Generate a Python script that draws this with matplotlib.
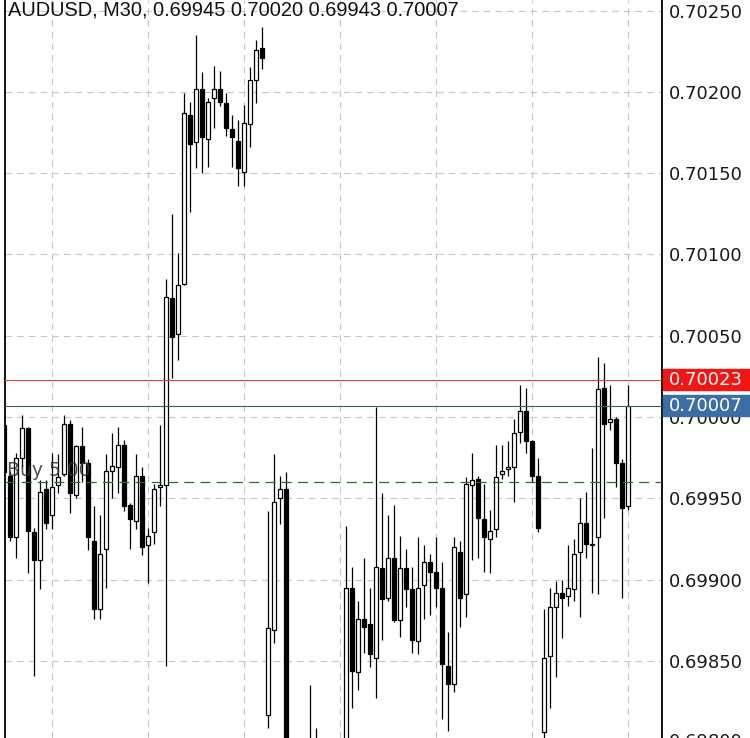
import numpy as np
import matplotlib.pyplot as plt
from matplotlib.patches import Rectangle
from matplotlib.ticker import FormatStrFormatter
from matplotlib.transforms import blended_transform_factory

# ---- data ----
title = "AUDUSD, M30, 0.69945 0.70020 0.69943 0.70007"

# OHLC in points (1 point = 0.00001)
opens = [69995, 69964, 69926, 69975, 69993, 69929, 69912, 69956, 69940, 69958,
         69965, 69996, 69952, 69982, 69972, 69924, 69882, 69919, 69967, 69969,
         69983, 69946, 69936, 69964, 69921, 69929, 69957, 69958, 70073, 70051,
         70082, 70186, 70169, 70202, 70171, 70196, 70202, 70193, 70177, 70170,
         70151, 70180, 70207, 70227, 69817, 69869, 69950, 69956, 69765, 69780,
         69772, 69790, 69785, 69778, 69770, 69785, 69776, 69782, 69895, 69843,
         69876, 69873, 69852, 69907, 69889, 69913, 69875, 69907, 69894, 69862,
         69897, 69911, 69905, 69895, 69847, 69836, 69917, 69891, 69958, 69962,
         69937, 69925, 69931, 69965, 69968, 69969, 69991, 70004, 69985, 69964,
         69806, 69853, 69883, 69892, 69890, 69894, 69917, 69935, 69921, 69926,
         70018, 69997, 69999, 69972, 69945]
highs = [69996, 69967, 69978, 70001, 69994, 69932, 69961, 69961, 69978, 69977,
         70001, 69998, 69983, 69994, 69974, 69945, 69940, 69977, 69990, 69994,
         69986, 69947, 69977, 69969, 69932, 69959, 69995, 70085, 70125, 70101,
         70199, 70194, 70235, 70212, 70196, 70216, 70213, 70199, 70186, 70183,
         70192, 70215, 70232, 70240, 69942, 69977, 69964, 69966, 69790, 69795,
         69798, 69835, 69809, 69795, 69792, 69798, 69796, 69933, 69908, 69887,
         69913, 69895, 70006, 69953, 69940, 69946, 69927, 69919, 69908, 69926,
         69921, 69916, 69926, 69911, 69868, 69926, 69924, 69963, 69978, 69964,
         69959, 69943, 69983, 69983, 69985, 69999, 70020, 70018, 69986, 69975,
         69882, 69895, 69899, 69900, 69921, 69925, 69950, 69954, 69981, 70037,
         70033, 70020, 70000, 69974, 70020]
lows = [69961, 69924, 69913, 69969, 69904, 69841, 69894, 69931, 69931, 69953,
        69964, 69941, 69950, 69960, 69918, 69876, 69876, 69895, 69950, 69953,
        69942, 69919, 69931, 69915, 69898, 69922, 69945, 69847, 70024, 70035,
        70081, 70126, 70153, 70150, 70154, 70178, 70191, 70173, 70154, 70142,
        70142, 70166, 70193, 70214, 69809, 69861, 69934, 69755, 69750, 69760,
        69768, 69775, 69760, 69755, 69762, 69766, 69768, 69775, 69821, 69832,
        69855, 69846, 69827, 69863, 69887, 69874, 69865, 69883, 69855, 69854,
        69876, 69878, 69883, 69814, 69807, 69831, 69871, 69877, 69912, 69913,
        69905, 69904, 69926, 69962, 69964, 69948, 69984, 69978, 69960, 69929,
        69798, 69821, 69840, 69864, 69884, 69887, 69877, 69913, 69892, 69891,
        69938, 69992, 69957, 69889, 69943]
closes = [69966, 69926, 69975, 69993, 69930, 69912, 69954, 69935, 69957, 69963,
          69996, 69953, 69982, 69972, 69926, 69882, 69916, 69967, 69970, 69983,
          69945, 69937, 69964, 69920, 69927, 69956, 69958, 70074, 70049, 70081,
          70187, 70168, 70202, 70172, 70194, 70202, 70194, 70178, 70172, 70153,
          70181, 70207, 70226, 70221, 69870, 69948, 69956, 69765, 69780, 69772,
          69790, 69785, 69778, 69770, 69785, 69776, 69782, 69895, 69844, 69876,
          69871, 69854, 69908, 69888, 69913, 69875, 69907, 69894, 69863, 69895,
          69911, 69905, 69895, 69848, 69836, 69920, 69889, 69959, 69961, 69938,
          69926, 69930, 69963, 69967, 69969, 69990, 70004, 69985, 69964, 69932,
          69852, 69883, 69892, 69889, 69895, 69916, 69935, 69922, 69922, 70017,
          69996, 69999, 69972, 69944, 70007]

ask_price = 0.70023
bid_price = 0.70007
buy_price = 0.69960
buy_label = "Buy 5.00"
price_ticks = [0.69800, 0.69850, 0.69900, 0.69950, 0.70000,
               0.70050, 0.70100, 0.70150, 0.70200, 0.70250]

# ---- plot ----
o = np.array(opens) / 1e5
h = np.array(highs) / 1e5
l = np.array(lows) / 1e5
c = np.array(closes) / 1e5
x = np.arange(len(o))
up = c >= o

fig = plt.figure(figsize=(7.5, 7.38), dpi=100)
ax = fig.add_axes([4.5 / 750, 0, 657.8 / 750, 1])

ax.vlines(x, l, h, color="black", lw=0.9, zorder=3)
body = np.maximum(np.abs(c - o), 0.000004)
ax.bar(x, body, bottom=np.minimum(o, c), width=0.72,
       color=np.where(up, "white", "black"), edgecolor="black",
       linewidth=0.9, zorder=4)

ax.set_xlim(0.03, 109.68)
ax.set_ylim(0.698026, 0.702565)

ax.set_xticks(np.arange(8, len(o), 16))
ax.set_yticks(price_ticks[1:])
ax.grid(True, color="#c6c6c6", lw=0.8, ls=(0, (6, 4.5)), zorder=0)
ax.yaxis.tick_right()
ax.yaxis.set_major_formatter(FormatStrFormatter("%.5f"))
ax.tick_params(axis="x", length=0, labelbottom=False)
ax.tick_params(axis="y", length=0, pad=5, labelsize=13, labelcolor="#1a1a1a")
for s in ["top", "bottom"]:
    ax.spines[s].set_visible(False)
for s in ["left", "right"]:
    ax.spines[s].set_linewidth(1.3)
    ax.spines[s].set_color("black")

# bottom label, mostly cut off by the figure edge
trans = blended_transform_factory(ax.transAxes, ax.transData)
ax.annotate("%.5f" % price_ticks[0], xy=(1.0, price_ticks[0]), xycoords=trans,
            xytext=(5, 0), textcoords="offset points", ha="left", va="center",
            fontsize=13, color="#1a1a1a", annotation_clip=False)

# current price lines
ax.axhline(ask_price, color="#d9473f", lw=0.8, zorder=5)
ax.axhline(bid_price, color="#3d5f6c", lw=0.8, zorder=5)
ax.axhline(buy_price, color="#2f6b2f", lw=0.9, ls=(0, (8, 5)), zorder=5)

box_h = 21 * (0.702565 - 0.698026) / 738
for price, col in [(ask_price, "#f31414"), (bid_price, "#3a6ea5")]:
    ax.add_patch(Rectangle((1.0015, price - box_h / 2), 0.135, box_h,
                           transform=trans, color=col, clip_on=False, zorder=6))
    ax.text(1.0095, price, "%.5f" % price, transform=trans, ha="left",
            va="center", fontsize=13, color="white", clip_on=False, zorder=7)

ax.text(0.5, buy_price + 0.000012, buy_label, ha="left", va="bottom",
        fontsize=13.5, color="#333333", alpha=0.85, zorder=6)

fig.text(8 / 750, 1 - 1 / 738, title, ha="left", va="top", fontsize=14.4,
         family=["Liberation Sans", "DejaVu Sans"], color="#111111")

fig.savefig("out.png", dpi=100)
